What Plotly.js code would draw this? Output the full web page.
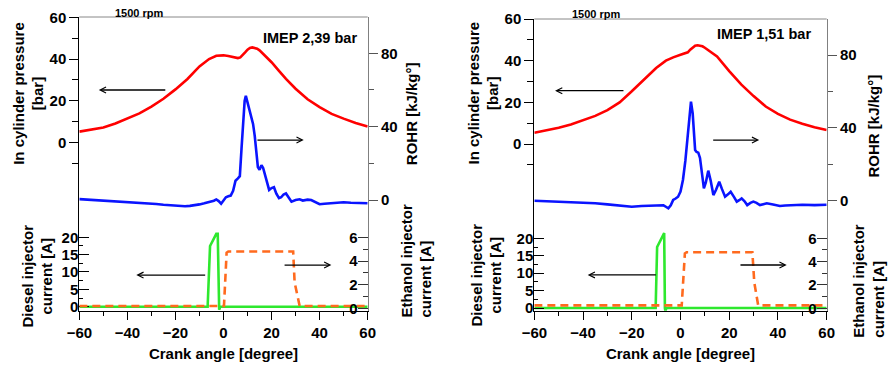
<!DOCTYPE html>
<html><head><meta charset="utf-8">
<script src="https://cdn.plot.ly/plotly-3.0.1.min.js"></script>
<style>html,body{margin:0;padding:0;background:#fff}#chart{width:890px;height:368px}</style>
</head><body><div id="chart"></div>
<script>
// ---------- DATA ----------
// Left panel (IMEP 2,39 bar)
const anglePressL = [-60,-55,-50,-45,-40,-35,-30,-25,-20,-15,-10,-6,-3,0,2,4,6,7,8,9,10,11,12,13,14,15,17,20,23,26,30,35,40,45,50,55,60];
const pressureL  = [5.3,6.2,7.3,9.2,11.5,14,17.3,21,25.5,30.5,36.5,40,41.6,41.8,41.5,41.1,40.5,40.8,41.8,43.2,44.5,45.3,45.6,45.4,45,44.2,42,38.5,34.5,30.5,25.8,20.8,17,13.8,11.5,9.4,7.7];
const angleRohrL = [-60,-56,-52,-48,-44,-40,-36,-32,-28,-25,-22,-19,-16,-14,-12,-10,-8,-6,-5,-4,-3,-2,-1,0,1,2,3,4,5,6,6.8,7.5,8.2,8.8,9.3,9.8,10.3,11,11.6,12.3,13,13.6,14.3,15,15.8,16.5,17.5,18.3,19,20,21,22,23.1,24,25,26,27,28.3,30,31.7,33,35,36.5,38,40,42,44,46,48,50,53,56,60];
const rohrL      = [0.5,0.2,-0.3,-0.6,-1,-1.2,-1.6,-1.8,-2.2,-2.6,-2.9,-3.1,-3.4,-3.2,-2.9,-2.4,-1.8,-1.2,-0.7,-0.4,0.3,-0.6,-2,-0.5,1.5,2,2.4,5,10.5,11.8,13,28,45,54,56.8,54,52,48,45.5,41.5,35,27,18,16.5,19,17.5,12.5,8.5,5.5,6.5,7,3.5,1,1.5,3,3.6,1.5,-0.9,0,0.4,-0.3,0.2,0,-1,-2.3,-2,-1.8,-1.5,-1.2,-1.2,-1.5,-1.8,-1.8];
const angleDieselL = [-60,-6.6,-5.6,-5.1,-3.0,-2.4,-2.0,-1.8,-1.4,60];
const dieselL      = [0,0,17.5,18.2,21,21,0,-0.9,0,0];
const angleEthL = [-60,0.2,1.3,2.0,29,29.6,31.7,60];
const ethanolL  = [0.2,0.2,4.7,4.8,4.8,2.2,0.2,0.2];

// Right panel (IMEP 1,51 bar)
const anglePressR = [-60,-55,-50,-45,-40,-35,-30,-25,-20,-15,-10,-6,-3,0,2,3,4,5,6,7,8,9,10,12,15,20,25,30,35,40,45,50,55,60];
const pressureR  = [5.4,6.6,7.8,9.4,11.3,13.5,16.3,20,25.3,31,36.5,40,41.6,42.8,43.5,44,45.3,46.5,47.2,47.4,47.3,46.9,46.2,44.6,42,35,28.5,23,18,14.5,11.7,9.7,8,6.7];
const angleRohrR = [-60,-55,-50,-45,-40,-35,-30,-25,-20,-16,-12,-9,-7,-6,-5,-4,-3,-2,-1,0,1,2,2.5,3,3.6,4.3,5,5.5,6,6.6,7.3,8,8.6,9.6,10.4,11.4,12.4,13.5,14.6,15.9,17,18.3,19.5,20.6,22,23.1,24.1,25.1,26.3,27.4,28.7,29.9,31.2,32.6,34,35.4,38,40.8,43,45,50,55,60];
const rohrR      = [0,-0.3,-0.5,-0.8,-0.9,-1.4,-2,-2.7,-3.3,-2.9,-2.6,-2.3,-2.5,-3.3,-4.2,-2.5,0.4,1.2,2.2,5,11.4,22,29.7,39,48,54.4,48,38,27.9,26.8,26.4,23.5,17,6.8,10,16.5,11,3.1,6,10.4,6.5,2.2,3.5,4.9,2,-0.5,0.3,1.3,-0.3,-2.4,-1.2,-0.5,-1.2,-2.4,-1.9,-1.4,-2.1,-2.9,-2.6,-2.4,-2.2,-2.4,-2.2];
const angleDieselR = [-60,-10.2,-9.6,-9.1,-7.0,-6.7,-6.4,-6.2,-5.8,60];
const dieselR      = [0,0,17.5,18.2,21.5,21.5,0,-0.9,0,0];
const angleEthR = [-60,0.5,1.8,2.5,29.5,30.3,31.9,60];
const ethanolR  = [0.25,0.25,4.7,4.8,4.8,2.2,0.25,0.25];

// Ticks and labels
const xTicks = [-60,-40,-20,0,20,40,60];
const xMinor = [-50,-30,-10,10,30,50];
const pressureTicks = [0,20,40,60];
const pressureMinor = [-10,10,30,50];
const rohrTicks = [0,40,80];
const rohrMinor = [20,60,100];
const dieselTicks = [0,5,10,15,20];
const dieselMinor = [2.5,7.5,12.5,17.5];
const ethanolTicks = [0,2,4,6];
const ethanolMinor = [1,3,5];
const imepLabels = ['IMEP 2,39 bar','IMEP 1,51 bar'];
const speedLabel = '1500 rpm';
const xTitle = 'Crank angle [degree]';
const pressureTitle = 'In cylinder pressure<br>[bar]';
const rohrTitle = 'ROHR [kJ/kg°]';
const dieselTitle = 'Diesel injector<br>current [A]';
const ethanolTitle = 'Ethanol injector<br>current [A]';

// ---------- STYLE ----------
const FAM = 'Liberation Sans, Arial, sans-serif';
const tf = {family: FAM, size: 15, color: '#000', weight: 'bold'};
const W = 890, H = 368;
const RED = '#ff0000', BLUE = '#0a14ff', GREEN = '#2ee82e', ORANGE = '#ff6a1e';

function line(x, y, xa, ya, color, dash) {
  return {x: x, y: y, xaxis: xa, yaxis: ya, type: 'scatter', mode: 'lines',
    line: {color: color, width: 2.6, dash: dash || 'solid'}, hoverinfo: 'skip'};
}
const data = [
  line(anglePressL, pressureL, 'x', 'y', RED),
  line(angleRohrL, rohrL, 'x', 'y2', BLUE),
  line(angleDieselL, dieselL, 'x', 'y3', GREEN),
  line(angleEthL, ethanolL, 'x', 'y4', ORANGE, '8px,5px'),
  line(anglePressR, pressureR, 'x2', 'y5', RED),
  line(angleRohrR, rohrR, 'x2', 'y6', BLUE),
  line(angleDieselR, dieselR, 'x2', 'y7', GREEN),
  line(angleEthR, ethanolR, 'x2', 'y8', ORANGE, '8px,5px')
];

function xAxis(dom, anchor) {
  return {domain: dom, anchor: anchor, range: [-60.02, 60.02], tickmode: 'array', tickvals: xTicks,
    ticks: 'outside', ticklen: 8, tickwidth: 1, tickcolor: '#000', tickfont: tf, ticklabeloverflow: 'allow',
    minor: {tickmode: 'array', tickvals: xMinor, ticks: 'outside', ticklen: 4, tickcolor: '#000'},
    showline: true, linecolor: '#000', linewidth: 1, showgrid: false, zeroline: false,
    title: {text: xTitle, font: tf, standoff: 8}};
}
function pressAxis(dom, anchor, range) {
  return {domain: dom, anchor: anchor, range: range, side: 'left', tickmode: 'array', tickvals: pressureTicks,
    ticks: 'outside', ticklen: 9, tickcolor: '#000', tickfont: tf, ticklabeloverflow: 'allow',
    minor: {tickmode: 'array', tickvals: pressureMinor, ticks: 'outside', ticklen: 6, tickcolor: '#000'},
    showline: true, linecolor: '#000', linewidth: 1, showgrid: false, zeroline: false};
}
function rohrAxis(over, anchor, range) {
  return {overlaying: over, anchor: anchor, side: 'right', range: range, tickmode: 'array', tickvals: rohrTicks,
    ticks: 'outside', ticklen: 9, tickcolor: '#555', tickfont: tf, ticklabeloverflow: 'allow',
    minor: {tickmode: 'array', tickvals: rohrMinor, ticks: 'outside', ticklen: 5, tickcolor: '#555'},
    showline: true, linecolor: '#808080', linewidth: 1.3, showgrid: false, zeroline: false};
}
function dieselAxis(over, anchor, range) {
  return {overlaying: over, anchor: anchor, side: 'left', range: range, tickmode: 'array', tickvals: dieselTicks,
    ticks: 'inside', ticklen: 10, tickcolor: '#000', tickfont: tf, ticklabeloverflow: 'allow',
    minor: {tickmode: 'array', tickvals: dieselMinor, ticks: 'inside', ticklen: 4, tickcolor: '#000'},
    showline: false, showgrid: false, zeroline: false};
}
// ethanol axis gets its own (slightly taller) domain so the inside "0" label is not hidden
function ethAxis(dom, anchor, range) {
  return {domain: dom, anchor: anchor, side: 'right', range: range, tickmode: 'array', tickvals: ethanolTicks,
    ticks: 'inside', ticklen: 10, tickcolor: '#333', tickfont: tf, ticklabelposition: 'inside', ticklabeloverflow: 'allow',
    minor: {tickmode: 'array', tickvals: ethanolMinor, ticks: 'inside', ticklen: 5, tickcolor: '#333'},
    showline: false, showgrid: false, zeroline: false};
}

function arrow(x, y, ax, xr, yr) {
  return {x: x, y: y, ax: ax, ay: y, xref: xr, yref: yr, axref: xr, ayref: yr, text: '',
    showarrow: true, arrowhead: 5, arrowsize: 0.9, arrowwidth: 1.3, arrowcolor: '#000'};
}
function ptext(t, px, py, size, opts) {
  return Object.assign({text: t, x: px / W, y: 1 - py / H, xref: 'paper', yref: 'paper',
    xanchor: 'center', yanchor: 'middle', showarrow: false,
    font: {family: FAM, size: size, color: '#000', weight: 'bold'}}, opts || {});
}

const layout = {
  width: W, height: H, margin: {l: 0, r: 0, t: 0, b: 0},
  paper_bgcolor: '#fff', plot_bgcolor: 'rgba(0,0,0,0)', showlegend: false,
  xaxis: xAxis([79.3 / W, 367.7 / W], 'y'),
  yaxis: pressAxis([57.5 / H, 351 / H], 'x', [-80.3, 60.14]),
  yaxis2: rohrAxis('y', 'x', [-60.25, 99.8]),
  yaxis3: dieselAxis('y', 'x', [-1.1, 83.5]),
  yaxis4: ethAxis([43 / H, 351 / H], 'x', [-1.401, 24.59]),
  xaxis2: xAxis([534.3 / W, 826.7 / W], 'y5'),
  yaxis5: pressAxis([57.3 / H, 349 / H], 'x2', [-80, 60]),
  yaxis6: rohrAxis('y5', 'x2', [-60.4, 99.8]),
  yaxis7: dieselAxis('y5', 'x2', [-0.77, 82.9]),
  yaxis8: ethAxis([43 / H, 349 / H], 'x2', [-1.431, 24.79]),
  shapes: [
    {type: 'line', xref: 'x domain', yref: 'y domain', x0: 0, x1: 1, y0: 1, y1: 1, line: {color: '#888', width: 1}},
    {type: 'line', xref: 'x2 domain', yref: 'y5 domain', x0: 0, x1: 1, y0: 1, y1: 1, line: {color: '#888', width: 1}}
  ],
  annotations: [
    arrow(-51.9, 25.2, -23.6, 'x', 'y'),
    arrow(33.4, 32.7, 13.5, 'x', 'y2'),
    arrow(-36.3, 9.1, -7.0, 'x', 'y3'),
    arrow(44.9, 3.66, 24.8, 'x', 'y4'),
    arrow(-51.5, 25.6, -22.8, 'x2', 'y5'),
    arrow(32.3, 33.3, 12.8, 'x2', 'y6'),
    arrow(-38.1, 9.5, -9.5, 'x2', 'y7'),
    arrow(43.6, 3.71, 24.0, 'x2', 'y8'),
    ptext(speedLabel, 139.5, 12.7, 11),
    ptext(speedLabel, 596, 14, 11),
    ptext(imepLabels[0], 309.5, 38, 14.5),
    ptext(imepLabels[1], 764, 34, 14.5),
    ptext(pressureTitle, 28.3, 93.5, 15, {textangle: -90}),
    ptext(pressureTitle, 483, 93.5, 15, {textangle: -90}),
    ptext(rohrTitle, 411.7, 113.5, 15, {textangle: -90}),
    ptext(rohrTitle, 872.5, 126, 15, {textangle: -90}),
    ptext(dieselTitle, 37, 276.5, 15, {textangle: -90}),
    ptext(dieselTitle, 485.5, 275, 15, {textangle: -90}),
    ptext(ethanolTitle, 416, 260.5, 15, {textangle: -90, align: 'left'}),
    ptext(ethanolTitle, 869, 280.7, 15, {textangle: -90, align: 'left'})
  ]
};

Plotly.newPlot('chart', data, layout, {displayModeBar: false, staticPlot: true});
</script></body></html>
